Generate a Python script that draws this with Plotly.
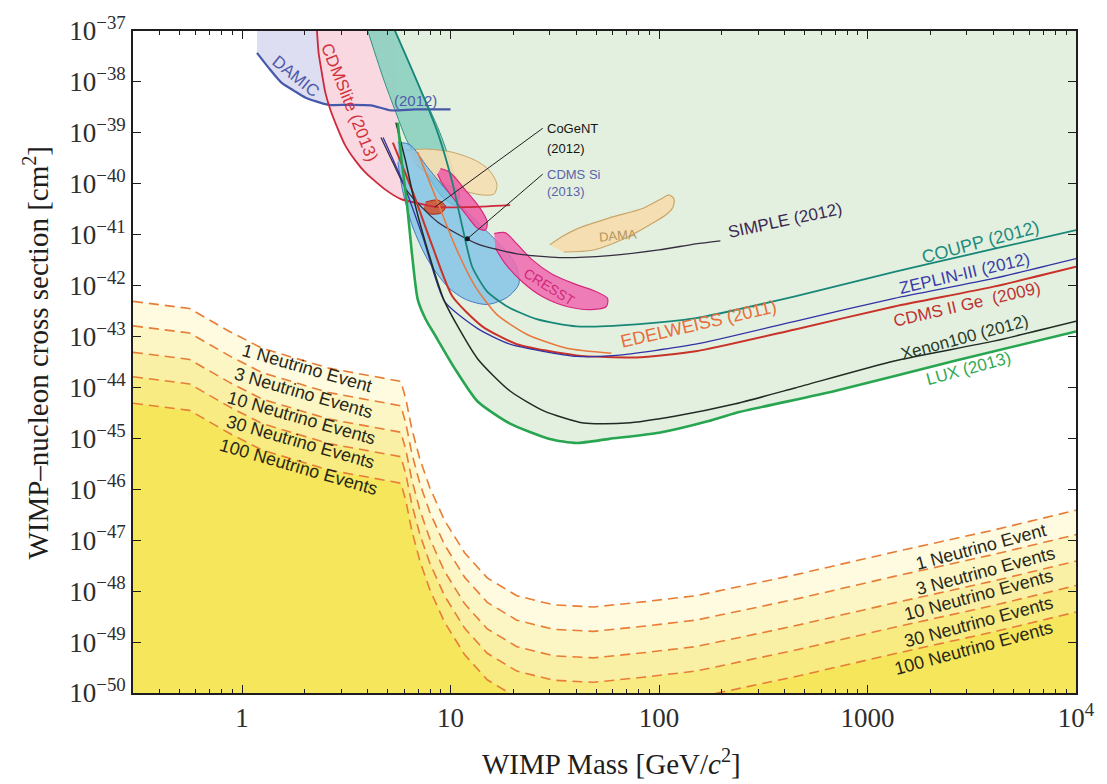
import numpy as np
import plotly.graph_objects as go

# ---------------- data (mass in GeV/c^2, log10 of cross section in cm^2) ----------------
NU_MASS = [0.3, 0.56, 0.87, 1.25, 2.6, 5.78, 6.11, 6.52, 7.12, 7.94, 9.36, 11.7,
           15.0, 20.8, 31.3, 48.5, 83.9, 150, 449, 1345, 4025, 10000]
NU_1EV = [-42.31, -42.45, -42.90, -43.23, -43.62, -43.88, -44.23, -44.81, -45.40, -45.96, -46.61,
          -47.25, -47.74, -48.09, -48.27, -48.31, -48.21, -48.09, -47.68, -47.23, -46.80, -46.41]
NU_3EV = [-42.79, -42.93, -43.38, -43.71, -44.10, -44.36, -44.71, -45.29, -45.88, -46.44, -47.09,
          -47.73, -48.22, -48.57, -48.75, -48.79, -48.69, -48.57, -48.16, -47.71, -47.28, -46.89]
NU_10EV = [-43.31, -43.45, -43.90, -44.23, -44.62, -44.88, -45.23, -45.81, -46.40, -46.96, -47.61,
           -48.25, -48.74, -49.09, -49.27, -49.31, -49.21, -49.09, -48.68, -48.23, -47.80, -47.41]
NU_30EV = [-43.79, -43.93, -44.38, -44.71, -45.10, -45.36, -45.71, -46.29, -46.88, -47.44, -48.09,
           -48.73, -49.22, -49.57, -49.75, -49.79, -49.69, -49.57, -49.16, -48.71, -48.28, -47.89]
NU_100EV = [-44.31, -44.45, -44.90, -45.23, -45.62, -45.88, -46.23, -46.81, -47.40, -47.96, -48.61,
            -49.25, -49.74, -50.09, -50.27, -50.31, -50.21, -50.09, -49.68, -49.23, -48.80, -48.41]
NU_LABELS = ["1 Neutrino Event", "3 Neutrino Events", "10 Neutrino Events",
             "30 Neutrino Events", "100 Neutrino Events"]

LUX_MASS = [5.59, 5.84, 6.17, 6.52, 6.96, 7.60, 8.39, 10.45, 13.45, 19.3, 29.9, 40.2, 57.8, 100,
            173, 233, 697, 2597, 10000]
LUX_SIG = [-38.80, -39.58, -40.36, -41.34, -42.27, -42.66, -42.96, -43.62, -44.27, -44.71, -45.01,
           -45.09, -45.01, -44.89, -44.66, -44.50, -44.07, -43.48, -42.90]

XENON_MASS = [5.47, 6.11, 6.81, 7.94, 9.36, 13.45, 19.3, 28.0, 43.5, 69.6, 120.5, 233, 449,
              1345, 4025, 10000]
XENON_SIG = [-38.80, -39.58, -40.46, -41.43, -42.31, -43.43, -44.07, -44.46, -44.70, -44.70,
             -44.56, -44.32, -44.01, -43.48, -43.09, -42.70]

COUPP_MASS = [5.29, 6.96, 8.67, 10.2, 11.4, 12.7, 15.0, 18.7, 25.9, 40.2, 77.7, 150, 449, 1345,
              4025, 10000]
COUPP_SIG = [-36.9, -38.02, -38.99, -39.97, -40.85, -41.63, -42.12, -42.41, -42.66, -42.80,
             -42.76, -42.64, -42.21, -41.73, -41.28, -40.91]

ZEPLIN_MASS = [4.75, 5.91, 7.36, 9.36, 13.45, 19.3, 40.2, 62.4, 150, 449, 1345, 4025, 10000]
ZEPLIN_SIG = [-39.09, -39.97, -41.04, -42.31, -42.84, -43.15, -43.39, -43.37, -43.15, -42.70,
              -42.25, -41.86, -41.47]

CDMSGE_MASS = [5.29, 6.59, 8.21, 10.2, 14.2, 20.8, 40.2, 77.7, 150, 449, 1345, 4025, 10000]
CDMSGE_SIG = [-39.19, -40.16, -41.24, -42.21, -42.80, -43.15, -43.37, -43.41, -43.29, -42.86,
              -42.41, -42.02, -41.63]

EDELWEISS_MASS = [6.96, 8.67, 10.56, 13.15, 16.7, 23.3, 36.1, 59.1]
EDELWEISS_SIG = [-39.38, -40.36, -41.24, -42.02, -42.57, -42.96, -43.23, -43.33]

SIMPLE_MASS = [4.64, 5.29, 6.24, 8.67, 13.45, 20.8, 33.4, 57.8, 100, 150, 197]
SIMPLE_SIG = [-39.09, -39.58, -40.16, -40.75, -41.18, -41.375, -41.45, -41.41, -41.30, -41.18,
              -41.12]

CDMSLITE_MASS = [2.28, 2.33, 2.40, 2.51, 2.65, 2.90, 3.13, 3.49, 3.89, 4.85, 5.78, 6.96, 8.67,
                 12.05, 19.3]
CDMSLITE_SIG = [-36.9, -37.43, -37.76, -38.21, -38.54, -38.95, -39.25, -39.54, -39.77, -40.11,
                -40.30, -40.38, -40.46, -40.46, -40.42]

DAMIC_MASS = [1.18, 1.34, 1.55, 1.77, 2.02, 2.60, 3.23, 4.16, 5.18, 6.74, 10.0]
DAMIC_SIG = [-37.43, -37.72, -38.02, -38.17, -38.31, -38.45, -38.45, -38.46, -38.56, -38.54,
             -38.54]

TEAL_MASS = [5.29, 6.96, 8.88, 10.33, 11.04, 10.56, 9.16, 7.60, 6.24, 5.47, 4.75, 3.94]
TEAL_SIG = [-36.9, -38.02, -38.99, -39.77, -40.26, -40.42, -40.26, -39.77, -39.19, -38.60,
            -37.92, -36.9]

DAMA_NA_MASS = [6.11, 7.77, 10.2, 13.15, 15.3, 16.7, 16.2, 14.2, 12.05, 9.68, 7.94, 6.81]
DAMA_NA_SIG = [-39.34, -39.32, -39.38, -39.54, -39.73, -40.01, -40.20, -40.22, -40.16, -40.03,
               -39.83, -39.62]
DAMA_I_MASS = [29.9, 34.2, 40.2, 57.8, 83.9, 102, 112, 118, 116.6, 108, 91.6, 69.6, 48.5, 34.9]
DAMA_I_SIG = [-41.20, -41.04, -40.89, -40.67, -40.48, -40.30, -40.22, -40.30, -40.46, -40.61,
              -40.79, -41.06, -41.30, -41.34]

CDMSSI_MASS = [5.59, 6.38, 7.77, 10.2, 13.45, 17.7, 20.4, 21.3, 18.7, 15.0, 11.8, 9.68, 7.77,
               6.59, 5.91, 5.59]
CDMSSI_SIG = [-39.19, -39.23, -39.68, -40.26, -40.75, -41.24, -41.57, -41.96, -42.23, -42.37,
              -42.27, -42.02, -41.49, -40.85, -40.16, -39.58]

CRESST_A_MASS = [8.96, 9.89, 11.8, 13.75, 15.0, 14.7, 13.45, 11.8, 10.2, 9.06, 8.67]
CRESST_A_SIG = [-39.70, -39.77, -40.125, -40.46, -40.75, -40.91, -40.87, -40.59, -40.26, -39.97,
                -39.81]
CRESST_B_MASS = [16.2, 18.3, 20.8, 24.6, 30.6, 40.2, 50.1, 56.6, 55.9, 47.5, 36.1, 27.4, 22.0,
                 18.3, 16.4]
CRESST_B_SIG = [-40.98, -40.96, -41.18, -41.49, -41.77, -41.98, -42.12, -42.25, -42.41, -42.47,
                -42.41, -42.21, -41.92, -41.57, -41.26]

COGENT_MASS = [7.60, 8.67, 9.47, 9.06, 7.94, 7.43]
COGENT_SIG = [-40.36, -40.32, -40.44, -40.57, -40.59, -40.48]

COGENT_PTR_MASS = [8.39, 27.7]
COGENT_PTR_SIG = [-40.46, -38.91]
CDMSSI_PTR_MASS = [12.05, 27.7]
CDMSSI_PTR_SIG = [-41.08, -39.81]

X_TICKS = [1, 10, 100, 1000, 10000]
X_TICK_TEXT = ["1", "10", "100", "1000", "10<sup>4</sup>"]
X_MINOR = [0.3, 0.4, 0.5, 0.6, 0.7, 0.8, 0.9, 2, 3, 4, 5, 6, 7, 8, 9, 20, 30, 40, 50, 60, 70,
           80, 90, 200, 300, 400, 500, 600, 700, 800, 900, 2000, 3000, 4000, 5000, 6000, 7000,
           8000, 9000]
Y_EXPONENTS = list(range(-50, -36))

TOP = -36.5      # beyond the top of the plot (log10)
BOTTOM = -51.0   # below the bottom of the plot (log10)


def pw(vals):
    return [10.0 ** v for v in vals]


fig = go.Figure()


def region(mass, sig, fill, line_color=None, width=0, shape="linear", opacity=1.0):
    fig.add_trace(go.Scatter(
        x=mass, y=pw(sig), mode="lines", fill="toself", fillcolor=fill,
        line=dict(color=line_color or "rgba(0,0,0,0)", width=width, shape=shape, smoothing=0.8),
        opacity=opacity, hoverinfo="skip", showlegend=False))


def curve(mass, sig, color, width, dash="solid", shape="spline"):
    fig.add_trace(go.Scatter(
        x=mass, y=pw(sig), mode="lines",
        line=dict(color=color, width=width, dash=dash, shape=shape, smoothing=0.6),
        hoverinfo="skip", showlegend=False))


# ---- neutrino floor shading ----
nu_curves = [NU_1EV, NU_3EV, NU_10EV, NU_30EV, NU_100EV]
nu_fills = ["rgb(254,251,224)", "rgb(252,246,196)", "rgb(250,240,165)",
            "rgb(248,235,130)", "rgb(245,230,92)"]
for c, col in zip(nu_curves, nu_fills):
    region(NU_MASS + NU_MASS[::-1], c + [BOTTOM] * len(NU_MASS), col)

# ---- excluded / signal regions ----
region(DAMIC_MASS + [DAMIC_MASS[-1], DAMIC_MASS[0]], DAMIC_SIG + [TOP, TOP], "rgb(222,222,242)")
region(CDMSLITE_MASS + [CDMSLITE_MASS[-1], CDMSLITE_MASS[0]], CDMSLITE_SIG + [TOP, TOP],
       "rgb(250,216,225)")
region(LUX_MASS + [12000, 12000, 5.29], LUX_SIG + [LUX_SIG[-1], TOP, TOP], "rgb(227,240,224)")
region(TEAL_MASS, TEAL_SIG, "rgba(140,208,192,0.9)", "rgb(50,145,125)", 1, "spline")
region(DAMA_NA_MASS, DAMA_NA_SIG, "rgba(245,222,178,0.9)", "rgb(200,165,105)", 1, "spline")
region(DAMA_I_MASS, DAMA_I_SIG, "rgba(245,222,178,1)", "rgb(200,165,105)", 1.2, "spline")
region(CDMSSI_MASS, CDMSSI_SIG, "rgba(120,190,232,0.75)", "rgb(70,120,190)", 1, "spline")
region(CRESST_A_MASS, CRESST_A_SIG, "rgba(238,90,165,0.85)", "rgb(215,40,125)", 1.2, "spline")
region(CRESST_B_MASS, CRESST_B_SIG, "rgba(240,105,175,0.85)", "rgb(215,40,125)", 1.2, "spline")
region(COGENT_MASS, COGENT_SIG, "rgba(210,80,40,0.85)", "rgb(170,40,20)", 1, "spline")

# ---- limit curves ----
curve(DAMIC_MASS, DAMIC_SIG, "rgb(70,88,170)", 2.2)
curve(CDMSLITE_MASS, CDMSLITE_SIG, "rgb(205,40,60)", 1.8)
curve(SIMPLE_MASS, SIMPLE_SIG, "rgb(55,45,65)", 1.3)
curve(EDELWEISS_MASS, EDELWEISS_SIG, "rgb(232,120,60)", 1.5)
curve(CDMSGE_MASS, CDMSGE_SIG, "rgb(200,50,40)", 2.0)
curve(ZEPLIN_MASS, ZEPLIN_SIG, "rgb(50,50,165)", 1.3)
curve(COUPP_MASS, COUPP_SIG, "rgb(25,135,120)", 1.8)
curve(XENON_MASS, XENON_SIG, "rgb(30,45,35)", 1.5)
curve(LUX_MASS, LUX_SIG, "rgb(40,165,80)", 2.6)

# ---- neutrino dashed lines ----
for c in nu_curves:
    curve(NU_MASS, c, "rgb(232,125,55)", 1.6, dash="10px,6px", shape="linear")

# ---- pointers ----
curve(COGENT_PTR_MASS, COGENT_PTR_SIG, "rgb(30,30,30)", 1, shape="linear")
curve(CDMSSI_PTR_MASS, CDMSSI_PTR_SIG, "rgb(30,30,30)", 1, shape="linear")
fig.add_trace(go.Scatter(x=[CDMSSI_PTR_MASS[0]], y=pw([CDMSSI_PTR_SIG[0]]), mode="markers",
                         marker=dict(color="rgb(20,20,40)", size=5), hoverinfo="skip",
                         showlegend=False))

# ---- labels ----
SANS = "Liberation Sans"
labels = [
    # text, log10 mass, log10 sigma, angle, color, size
    ("SIMPLE (2012)", 2.605, -40.72, -12, "rgb(60,40,80)", 17),
    ("COUPP (2012)", 3.543, -41.14, -15, "rgb(30,140,125)", 18),
    ("ZEPLIN-III (2012)", 3.467, -41.77, -13, "rgb(60,60,170)", 17),
    ("CDMS II Ge  (2009)", 3.476, -42.38, -13, "rgb(190,50,50)", 17),
    ("Xenon100 (2012)", 3.467, -43.02, -15, "rgb(40,60,40)", 17),
    ("LUX (2013)", 3.486, -43.62, -15, "rgb(50,170,80)", 17),
    ("EDELWEISS (2011)", 2.190, -42.76, -13, "rgb(232,110,60)", 18),
    ("CDMSlite (2013)", 0.514, -38.41, 68, "rgb(210,50,60)", 17),
    ("DAMIC", 0.257, -37.90, 39, "rgb(80,90,170)", 17),
    ("(2012)", 0.833, -38.37, 0, "rgb(80,90,170)", 15),
    ("DAMA", 1.805, -41.02, -5, "rgb(180,150,90)", 13),
    ("CRESST", 1.476, -42.02, 32, "rgb(210,40,120)", 14),
]
ann = []
for t, lx, ly, ang, col, sz in labels:
    ann.append(dict(x=lx, y=ly, xref="x", yref="y", text=t, showarrow=False, textangle=ang,
                    font=dict(family=SANS, size=sz, color=col), xanchor="center",
                    yanchor="middle"))

for t, ly, col in [("CoGeNT", -38.91, "rgb(20,20,20)"), ("(2012)", -39.30, "rgb(20,20,20)"),
                   ("CDMS Si", -39.81, "rgb(90,100,170)"), ("(2013)", -40.16, "rgb(90,100,170)")]:
    ann.append(dict(x=1.452, y=ly, xref="x", yref="y", text=t, showarrow=False,
                    font=dict(family=SANS, size=13, color=col), xanchor="left",
                    yanchor="middle"))

left_pos = [(0.310, -43.62), (0.295, -44.11), (0.286, -44.60), (0.281, -45.07), (0.271, -45.57)]
right_pos = [(3.543, -47.14), (3.567, -47.61), (3.533, -48.07), (3.533, -48.60), (3.510, -49.11)]
for t, (lx, ly) in zip(NU_LABELS, left_pos):
    ann.append(dict(x=lx, y=ly, xref="x", yref="y", text=t, showarrow=False, textangle=16,
                    font=dict(family=SANS, size=18, color="rgb(40,40,25)"),
                    xanchor="center", yanchor="middle"))
for t, (lx, ly) in zip(NU_LABELS, right_pos):
    ann.append(dict(x=lx, y=ly, xref="x", yref="y", text=t, showarrow=False, textangle=-15,
                    font=dict(family=SANS, size=18, color="rgb(40,40,25)"),
                    xanchor="center", yanchor="middle"))

SERIF = "Liberation Serif"
ann.append(dict(x=-0.103, y=0.514, xref="paper", yref="paper", showarrow=False, textangle=-90,
                xanchor="center", yanchor="middle",
                text="WIMP\u2013nucleon cross section [cm<sup>2</sup>]",
                font=dict(family=SERIF, size=29, color="rgb(30,30,30)")))
ann.append(dict(x=0.507, y=-0.104, xref="paper", yref="paper", showarrow=False,
                xanchor="center", yanchor="middle",
                text="WIMP Mass [GeV/<i>c</i><sup>2</sup>]",
                font=dict(family=SERIF, size=29, color="rgb(30,30,30)")))

fig.update_layout(
    width=1107, height=784,
    margin=dict(l=133, r=24, t=28, b=91),
    paper_bgcolor="white", plot_bgcolor="white",
    showlegend=False,
    annotations=ann,
)

axis_common = dict(showline=True, linecolor="rgb(30,30,30)", linewidth=1.6, mirror="allticks",
                   ticks="inside", ticklen=8, tickwidth=1.3, tickcolor="rgb(30,30,30)",
                   showgrid=False, zeroline=False,
                   tickfont=dict(family=SERIF, size=27, color="rgb(45,45,45)"))

fig.update_xaxes(type="log", range=[np.log10(0.3), 4], tickmode="array", tickvals=X_TICKS,
                 ticktext=X_TICK_TEXT,
                 minor=dict(tickmode="array", tickvals=X_MINOR, ticks="inside", ticklen=4,
                            tickwidth=1.2, tickcolor="rgb(30,30,30)", showgrid=False),
                 **axis_common)
fig.update_yaxes(type="log", range=[-50, -37], tickmode="array",
                 tickvals=[10.0 ** e for e in Y_EXPONENTS],
                 ticktext=["10<sup>\u2212%d</sup>" % (-e) for e in Y_EXPONENTS],
                 **axis_common)

fig.write_html("out.html")
